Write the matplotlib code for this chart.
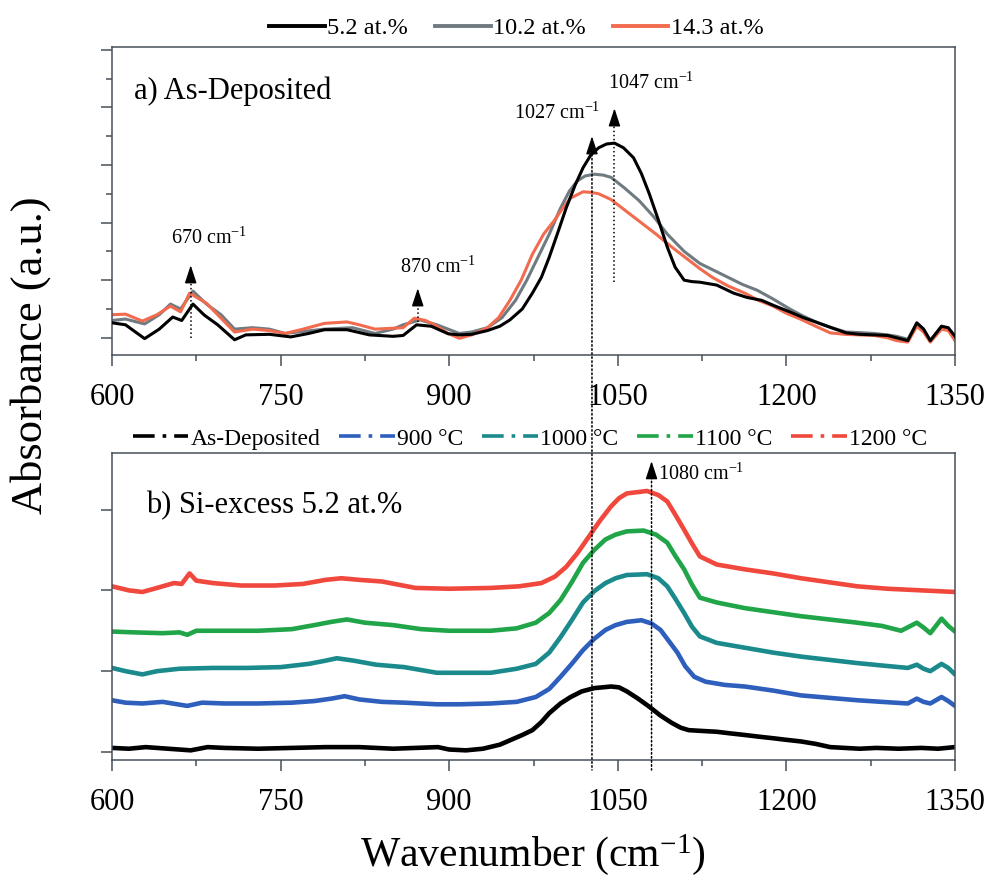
"""FTIR absorbance spectra: as-deposited films and annealed 5.2 at.% film."""

import matplotlib

matplotlib.use("Agg")
import matplotlib.pyplot as plt
import matplotlib.transforms as mtransforms
from matplotlib.lines import Line2D
from matplotlib.patches import ConnectionPatch
from matplotlib.ticker import MultipleLocator

plt.rcParams["font.family"] = ["Liberation Serif", "DejaVu Serif"]
plt.rcParams["mathtext.fontset"] = "custom"
plt.rcParams["mathtext.rm"] = "Liberation Serif"
plt.rcParams["mathtext.it"] = "Liberation Serif:italic"

# ---- panel a: as-deposited, three Si excess values ----
wn_a_52 = [600, 612, 629, 642, 654, 662, 672, 682, 694, 709, 719, 740, 759, 775, 789, 809,
           829, 850, 859, 871, 884, 899, 909, 920, 934, 945, 954, 965, 974, 982, 989, 997,
           1004, 1012, 1019, 1026, 1033, 1040, 1047, 1055, 1064, 1071, 1078, 1086, 1094,
           1101, 1109, 1116, 1123, 1138, 1153, 1165, 1178, 1190, 1203, 1215, 1228, 1240,
           1253, 1265, 1278, 1290, 1298, 1308, 1316, 1322, 1328, 1338, 1344, 1350]
abs_a_52 = [0.052, 0.045, -0.003, 0.03, 0.072, 0.06, 0.117, 0.079, 0.045, -0.007, 0.01,
            0.012, 0.003, 0.015, 0.028, 0.028, 0.01, 0.005, 0.008, 0.045, 0.04, 0.014, 0.01,
            0.012, 0.025, 0.04, 0.062, 0.1, 0.155, 0.21, 0.28, 0.37, 0.45, 0.53, 0.59, 0.635,
            0.66, 0.673, 0.676, 0.66, 0.625, 0.57, 0.50, 0.41, 0.315, 0.245, 0.2, 0.195,
            0.193, 0.183, 0.155, 0.14, 0.13, 0.11, 0.09, 0.07, 0.052, 0.035, 0.017, 0.012,
            0.01, 0.008, 0.0, -0.01, 0.052, 0.03, -0.01, 0.04, 0.035, 0.005]

wn_a_102 = [600, 612, 629, 642, 652, 661, 672, 684, 697, 709, 725, 740, 754, 770, 789, 814,
            834, 850, 859, 874, 889, 899, 909, 920, 934, 947, 959, 969, 979, 989, 999, 1007,
            1014, 1021, 1029, 1037, 1044, 1056, 1069, 1082, 1094, 1109, 1123, 1135, 1148,
            1161, 1174, 1188, 1203, 1215, 1228, 1240, 1253, 1265, 1278, 1290, 1298, 1308,
            1316, 1322, 1328, 1338, 1344, 1350]
abs_a_102 = [0.06, 0.065, 0.048, 0.08, 0.117, 0.1, 0.162, 0.117, 0.08, 0.03, 0.035, 0.03,
             0.015, 0.022, 0.03, 0.035, 0.015, 0.03, 0.045, 0.062, 0.045, 0.03, 0.015, 0.02,
             0.035, 0.07, 0.13, 0.2, 0.28, 0.36, 0.45, 0.51, 0.545, 0.562, 0.568, 0.565,
             0.557, 0.52, 0.476, 0.42, 0.36, 0.3, 0.258, 0.235, 0.21, 0.185, 0.165, 0.135,
             0.10, 0.075, 0.052, 0.035, 0.02, 0.018, 0.015, 0.01, 0.005, -0.005, 0.05, 0.03,
             -0.01, 0.04, 0.03, 0.005]

wn_a_143 = [600, 612, 627, 640, 652, 661, 669, 684, 694, 709, 725, 740, 754, 770, 789, 809,
            820, 834, 859, 869, 879, 889, 899, 909, 920, 934, 944, 954, 964, 974, 984, 994,
            1001, 1008, 1019, 1026, 1033, 1044, 1054, 1069, 1084, 1098, 1113, 1123, 1134,
            1148, 1163, 1175, 1188, 1200, 1213, 1226, 1239, 1252, 1264, 1278, 1290, 1298,
            1308, 1316, 1322, 1328, 1338, 1344, 1350]
abs_a_143 = [0.08, 0.082, 0.058, 0.08, 0.11, 0.09, 0.155, 0.12, 0.08, 0.02, 0.03, 0.025,
             0.015, 0.03, 0.05, 0.055, 0.045, 0.03, 0.035, 0.068, 0.06, 0.04, 0.015, -0.002,
             0.01, 0.035, 0.07, 0.13, 0.2, 0.29, 0.36, 0.41, 0.45, 0.485, 0.507, 0.505, 0.5,
             0.48, 0.45, 0.405, 0.36, 0.315, 0.27, 0.24, 0.21, 0.18, 0.155, 0.13, 0.11, 0.085,
             0.064, 0.04, 0.017, 0.012, 0.01, 0.008, 0.0, -0.01, -0.015, 0.04, 0.02, -0.015,
             0.03, 0.025, -0.01]

labels_a = ["5.2 at.%", "10.2 at.%", "14.3 at.%"]
colors_a = ["#000000", "#6f7b80", "#f26b4f"]

# ---- panel b: 5.2 at.% film, as-deposited and annealed (stacked) ----
wn_b_asdep = [600, 615, 630, 650, 670, 685, 700, 730, 760, 790, 820, 850, 870, 890, 900, 915,
              930, 945, 955, 965, 974, 982, 989, 999, 1008, 1018, 1029, 1044, 1051, 1058,
              1068, 1078, 1088, 1098, 1106, 1113, 1125, 1138, 1150, 1163, 1175, 1188, 1200,
              1213, 1226, 1239, 1252, 1265, 1280, 1300, 1320, 1335, 1350]
abs_b_asdep = [0.05, 0.04, 0.06, 0.04, 0.02, 0.06, 0.05, 0.04, 0.05, 0.06, 0.06, 0.04, 0.05,
               0.06, 0.03, 0.02, 0.04, 0.09, 0.15, 0.21, 0.27, 0.37, 0.48, 0.6, 0.68, 0.75,
               0.79, 0.81, 0.8, 0.75, 0.66, 0.56, 0.45, 0.36, 0.3, 0.27, 0.26, 0.25, 0.23,
               0.21, 0.19, 0.17, 0.15, 0.13, 0.1, 0.06, 0.05, 0.04, 0.05, 0.04, 0.05, 0.04, 0.06]

wn_b_900 = [600, 612, 627, 645, 667, 680, 700, 730, 760, 780, 795, 807, 820, 840, 860, 889,
            910, 937, 960, 977, 989, 999, 1009, 1019, 1029, 1039, 1048, 1058, 1071, 1080,
            1088, 1095, 1103, 1110, 1118, 1128, 1145, 1163, 1188, 1213, 1238, 1263, 1285,
            1308, 1316, 1322, 1328, 1338, 1344, 1350]
abs_b_900 = [0.64, 0.61, 0.6, 0.62, 0.57, 0.61, 0.6, 0.6, 0.61, 0.63, 0.66, 0.69, 0.65, 0.62,
             0.61, 0.59, 0.59, 0.6, 0.62, 0.68, 0.78, 0.93, 1.09, 1.26, 1.4, 1.51, 1.57,
             1.61, 1.63, 1.59, 1.51, 1.38, 1.23, 1.06, 0.93, 0.87, 0.83, 0.81, 0.76, 0.7,
             0.67, 0.64, 0.62, 0.6, 0.66, 0.62, 0.6, 0.68, 0.63, 0.57]

wn_b_1000 = [600, 612, 627, 640, 660, 690, 720, 750, 775, 790, 800, 815, 835, 860, 889, 910,
             937, 960, 977, 989, 999, 1009, 1019, 1029, 1039, 1048, 1058, 1076, 1086, 1094,
             1101, 1109, 1116, 1123, 1138, 1163, 1188, 1213, 1238, 1263, 1285, 1308, 1316,
             1322, 1328, 1338, 1344, 1350]
abs_b_1000 = [1.04, 1.0, 0.96, 1.0, 1.03, 1.04, 1.04, 1.05, 1.09, 1.13, 1.16, 1.13, 1.08,
              1.05, 0.98, 0.98, 0.98, 1.03, 1.09, 1.23, 1.42, 1.63, 1.85, 1.99, 2.09, 2.15,
              2.19, 2.2, 2.15, 2.05, 1.9, 1.72, 1.55, 1.43, 1.35, 1.29, 1.23, 1.18, 1.14, 1.1,
              1.07, 1.04, 1.08, 1.03, 1.0, 1.09, 1.04, 0.96]

wn_b_1100 = [600, 620, 645, 660, 667, 675, 700, 730, 760, 780, 795, 809, 825, 850, 875, 900,
             937, 960, 977, 989, 999, 1009, 1019, 1029, 1039, 1048, 1058, 1073, 1084, 1094,
             1101, 1109, 1116, 1123, 1138, 1163, 1188, 1213, 1238, 1263, 1285, 1302, 1316,
             1322, 1328, 1338, 1344, 1350]
abs_b_1100 = [1.49, 1.48, 1.47, 1.48, 1.45, 1.5, 1.5, 1.5, 1.52, 1.57, 1.61, 1.64, 1.6, 1.57,
              1.52, 1.5, 1.5, 1.53, 1.6, 1.72, 1.88, 2.1, 2.34, 2.5, 2.63, 2.69, 2.73, 2.74,
              2.69, 2.59, 2.43, 2.26, 2.07, 1.91, 1.85, 1.78, 1.73, 1.68, 1.64, 1.6, 1.56,
              1.5, 1.6, 1.54, 1.47, 1.65, 1.56, 1.49]

wn_b_1200 = [600, 615, 627, 640, 655, 662, 669, 675, 690, 715, 745, 770, 790, 804, 820, 840,
             870, 900, 937, 962, 982, 994, 1004, 1014, 1024, 1034, 1044, 1051, 1058, 1076,
             1086, 1094, 1101, 1109, 1116, 1123, 1138, 1163, 1188, 1213, 1238, 1263, 1290,
             1320, 1350]
abs_b_1200 = [2.05, 2.0, 1.98, 2.03, 2.09, 2.08, 2.21, 2.12, 2.09, 2.06, 2.06, 2.08, 2.13,
              2.15, 2.13, 2.11, 2.03, 2.02, 2.03, 2.05, 2.09, 2.17, 2.29, 2.46, 2.66, 2.86,
              3.04, 3.14, 3.2, 3.23, 3.18, 3.1, 2.94, 2.75, 2.58, 2.42, 2.32, 2.26, 2.21,
              2.15, 2.1, 2.05, 2.02, 2.0, 1.98]

labels_b = ["As-Deposited", "900 \u00b0C", "1000 \u00b0C", "1100 \u00b0C", "1200 \u00b0C"]
colors_b = ["#000000", "#2f5fbd", "#1b8a8c", "#20a548", "#f0483c"]

SPINE = "#46505a"
TICK_FS = 22


def style_axes(ax):
    for side in ax.spines.values():
        side.set_color(SPINE)
        side.set_linewidth(1.1)
    ax.set_xlim(600, 1350)
    ax.xaxis.set_major_locator(MultipleLocator(150))
    ax.xaxis.set_minor_locator(MultipleLocator(75))
    ax.tick_params(which="both", direction="out", color=SPINE, width=1.1,
                   top=False, right=False, labelsize=TICK_FS)
    ax.tick_params(which="major", length=8, pad=12)
    ax.tick_params(which="minor", length=4.5, pad=12)
    ax.tick_params(axis="y", labelleft=False)


def arrow_head(ax, x, tip, base):
    ax.annotate("", xy=(x, tip), xytext=(x, base),
                arrowprops=dict(arrowstyle="-|>,head_length=0.55,head_width=0.18",
                                color="black", lw=1.0, mutation_scale=20,
                                shrinkA=0, shrinkB=0))


fig = plt.figure(figsize=(9.87, 8.81), dpi=100)
ax_a = fig.add_axes([0.1135, 0.597, 0.8541, 0.3497])
ax_b = fig.add_axes([0.1135, 0.1373, 0.8541, 0.3485])

# panel a
for wn, ab, lab, col in zip([wn_a_52, wn_a_102, wn_a_143], [abs_a_52, abs_a_102, abs_a_143],
                            labels_a, colors_a):
    ax_a.plot(wn, ab, color=col, lw=2.2, label=lab)
# draw the 5.2 line on top like the original
ax_a.lines[0].set_zorder(3)
style_axes(ax_a)
ax_a.set_ylim(-0.06, 1.01)
ax_a.yaxis.set_major_locator(MultipleLocator(0.2))
ax_a.yaxis.set_minor_locator(MultipleLocator(0.1))
ax_a.text(0.026, 0.855, "a) As-Deposited", transform=ax_a.transAxes, fontsize=22,
          va="center", ha="left")

# short arrows in panel a
ax_a.plot([670, 670], [0.0, 0.225], ls=":", color="black", lw=1.1)
arrow_head(ax_a, 670, 0.252, 0.2)
ax_a.plot([872, 872], [0.055, 0.145], ls=":", color="black", lw=1.1)
arrow_head(ax_a, 872, 0.172, 0.12)
ax_a.plot([1047, 1047], [0.193, 0.77], ls=":", color="black", lw=1.1)
arrow_head(ax_a, 1047, 0.797, 0.745)
arrow_head(ax_a, 1027, 0.70, 0.65)

ax_a.text(686, 0.345, "670 cm$^{-1}$", fontsize=14.5, ha="center", va="center")
ax_a.text(890, 0.245, "870 cm$^{-1}$", fontsize=14.5, ha="center", va="center")
ax_a.text(996, 0.78, "1027 cm$^{-1}$", fontsize=14.5, ha="center", va="center")
ax_a.text(1080, 0.885, "1047 cm$^{-1}$", fontsize=14.5, ha="center", va="center")

legend_a = [Line2D([], [], color=c, lw=2.8) for c in colors_a]
fig.legend(handles=legend_a, labels=labels_a, loc="center", ncol=3,
           bbox_to_anchor=(0.523, 0.968), frameon=False, fontsize=17.5,
           handlelength=2.3, handletextpad=0.1, columnspacing=1.1)

# panel b
series_b = [(wn_b_asdep, abs_b_asdep), (wn_b_900, abs_b_900), (wn_b_1000, abs_b_1000),
            (wn_b_1100, abs_b_1100), (wn_b_1200, abs_b_1200)]
for (wn, ab), col in zip(series_b, colors_b):
    ax_b.plot(wn, ab, color=col, lw=3.3, solid_capstyle="round", solid_joinstyle="round")
style_axes(ax_b)
ax_b.set_ylim(-0.1, 3.7)
ax_b.yaxis.set_major_locator(MultipleLocator(1))
ax_b.yaxis.set_minor_locator(plt.NullLocator())
ax_b.text(0.04, 0.83, "b) Si-excess 5.2 at.%", transform=ax_b.transAxes, fontsize=22,
          va="center", ha="left")
arrow_head(ax_b, 1080, 3.6, 3.4)
ax_b.text(1086, 3.44, "1080 cm$^{-1}$", fontsize=14.5, ha="left", va="center")

legend_b = [Line2D([], [], color=c, lw=2.6, ls=(0, (6, 2.2, 1, 2.2))) for c in colors_b]
fig.legend(handles=legend_b, labels=labels_b, loc="center", ncol=5,
           bbox_to_anchor=(0.537, 0.502), frameon=False, fontsize=17,
           handlelength=2.35, handletextpad=0.1, columnspacing=0.8)

# long dotted guides running through both panels
fig_y = mtransforms.blended_transform_factory(ax_b.transData, fig.transFigure)
for x, top_ax, top_y in [(1027, ax_a, 0.665), (1080, ax_b, 3.45)]:
    con = ConnectionPatch(xyA=(x, top_y), coordsA=top_ax.transData,
                          xyB=(x, 0.126), coordsB=fig_y,
                          ls=":", color="black", lw=1.1)
    fig.add_artist(con)

fig.text(0.54, 0.03, "Wavenumber (cm$^{-1}$)", fontsize=30, ha="center", va="center")
fig.text(0.031, 0.597, "Absorbance (a.u.)", fontsize=32, rotation=90,
         ha="center", va="center")

fig.savefig("out.png", dpi=100)
